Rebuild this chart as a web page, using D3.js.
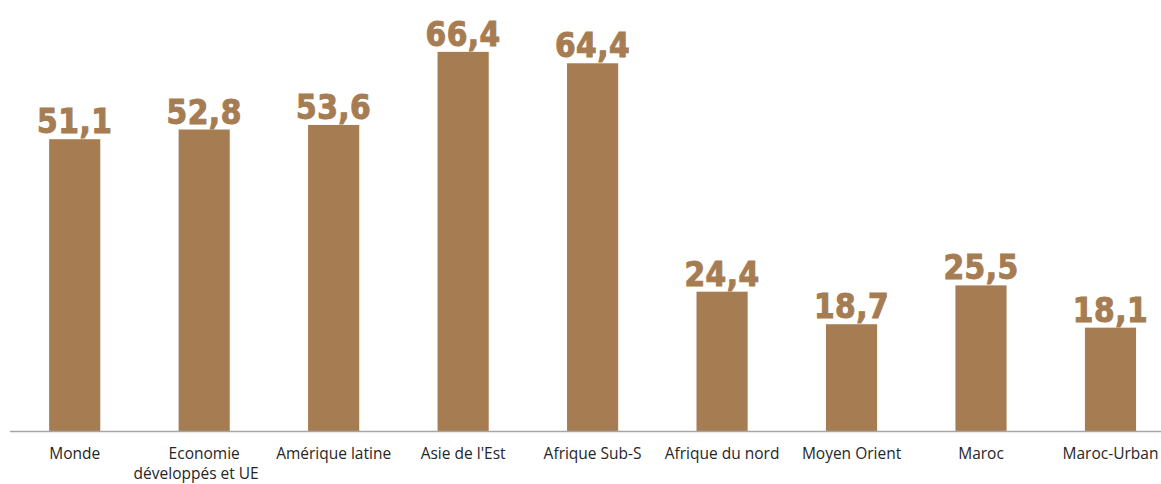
<!DOCTYPE html>
<html>
<head>
<meta charset="utf-8">
<script src="https://cdn.jsdelivr.net/npm/d3@7"></script>
<style>
  body { margin: 0; background: #fff; }
</style>
</head>
<body>
<div id="chart"></div>
<script>
// categories (line breaks with \n)
var categories = ["Monde", "Economie\ndéveloppés et UE", "Amérique latine", "Asie de l'Est",
                  "Afrique Sub-S", "Afrique du nord", "Moyen Orient", "Maroc", "Maroc-Urban"];
var values = [51.1, 52.8, 53.6, 66.4, 64.4, 24.4, 18.7, 25.5, 18.1];

var width = 1161, height = 484;
var base = 431;
var barColor = "#a67c52";

var svg = d3.select("#chart").append("svg")
  .attr("width", width)
  .attr("height", height);

var x = d3.scaleBand()
  .domain(categories)
  .range([10.3, 1174.9])
  .paddingInner(0.605)
  .paddingOuter(0.3);

var y = d3.scaleLinear()
  .domain([0, 70])
  .range([base, base - 70 * 5.71]);

// bars
svg.selectAll("rect.bar")
  .data(values)
  .join("rect")
    .attr("class", "bar")
    .attr("x", (d, i) => x(categories[i]))
    .attr("y", d => y(d))
    .attr("width", x.bandwidth())
    .attr("height", d => base - y(d))
    .attr("fill", barColor);

// value labels
svg.selectAll("text.val")
  .data(values)
  .join("text")
    .attr("class", "val")
    .attr("x", (d, i) => x(categories[i]) + x.bandwidth() / 2)
    .attr("y", d => y(d) - 6)
    .attr("text-anchor", "middle")
    .attr("font-family", "'DejaVu Sans Condensed', 'DejaVu Sans'")
    .attr("font-weight", "bold")
    .attr("font-size", 33)
    .attr("letter-spacing", 0.5)
    .attr("fill", barColor)
    .attr("stroke", barColor)
    .attr("stroke-width", 1)
    .text(d => d.toFixed(1).replace(".", ","));

// x axis line
svg.append("line")
  .attr("x1", 10).attr("x2", width)
  .attr("y1", base + 0.5).attr("y2", base + 0.5)
  .attr("stroke", "#a6a6a6")
  .attr("stroke-width", 1.5);

// category labels (second line as its own text)
var catLines = [];
categories.forEach(function(c) {
  c.split("\n").forEach(function(t, j) { catLines.push({cat: c, line: j, text: t}); });
});

svg.selectAll("text.cat")
  .data(catLines)
  .join("text")
    .attr("class", "cat")
    .attr("x", d => x(d.cat) + x.bandwidth() / 2 - (d.line > 0 ? 8 : 0))
    .attr("y", d => 459 + d.line * 20)
    .attr("text-anchor", "middle")
    .attr("font-family", "'Open Sans', sans-serif")
    .attr("font-size", 15.5)
    .attr("fill", "#262626")
    .text(d => d.text);
</script>
</body>
</html>
